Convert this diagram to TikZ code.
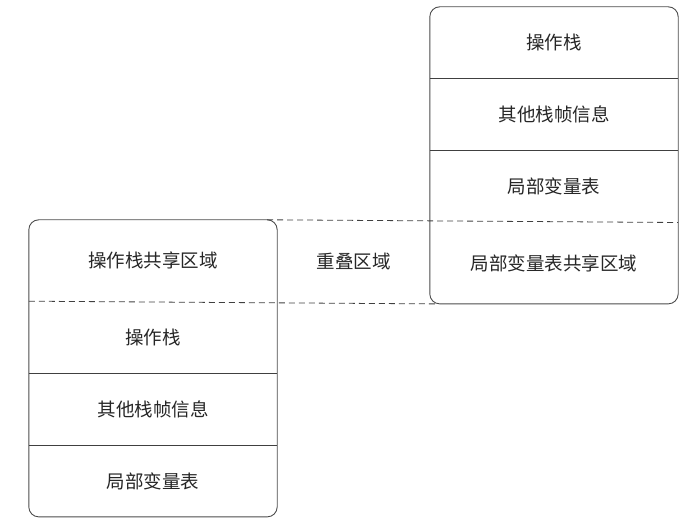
\documentclass[tikz,border=0pt]{standalone}
\usepackage{fontspec}
\newfontfamily\cjk{Noto Sans CJK SC}
\usetikzlibrary{positioning}
\usetikzlibrary{fit}
\usetikzlibrary{calc}
\tikzset {
  % one row of a stack frame
  cell/.style = {
    minimum width = 248pt,
    minimum height = 71.5pt,
    inner sep = 0,
    text = black!85,
    font = \cjk\fontsize{18.5}{22}\selectfont
  },
  % row that is shared with the other frame
  shared/.style = {
    cell,
    minimum height = 81pt
  },
  frame/.style = {
    draw = black!70,
    line width = 0.9pt,
    rounded corners = 10pt,
    inner sep = 0
  },
  sep/.style = {
    draw = black!75,
    line width = 0.8pt
  },
  overlap/.style = {
    sep,
    dash pattern = on 6pt off 4pt
  },
  node distance = 0pt
}

\begin{document}
\begin{tikzpicture}[x=1pt, y=1pt]
    \useasboundingbox (0,0) rectangle (700,518);

    % upper frame
    \node[cell] (upper-op) at (554,475.25) {操作栈};
    \node[cell] (upper-info) [below=of upper-op] {其他栈帧信息};
    \node[cell] (upper-local) [below=of upper-info] {局部变量表};
    \node[shared] (upper-share) [below=of upper-local] {局部变量表共享区域};

    % lower frame
    \node[shared] (lower-share) at (153,257.5) {操作栈共享区域};
    \node[cell] (lower-op) [below=of lower-share] {操作栈};
    \node[cell] (lower-info) [below=of lower-op] {其他栈帧信息};
    \node[cell] (lower-local) [below=of lower-info] {局部变量表};

    \node[cell, minimum width = 0pt] (overlap)
      at ($(lower-share.east)!0.5!(upper-share.west)$) {重叠区域};

    \node[frame, fit=(upper-op)(upper-share)] (upper-frame) {};
    \node[frame, fit=(lower-share)(lower-local)] (lower-frame) {};

    \draw[sep] (upper-op.south west) -- (upper-op.south east);
    \draw[sep] (upper-info.south west) -- (upper-info.south east);
    \draw[sep] (lower-op.south west) -- (lower-op.south east);
    \draw[sep] (lower-info.south west) -- (lower-info.south east);

    \draw[overlap] ([xshift=-10pt]lower-share.north east)
    -- (upper-share.north east);

    \draw[overlap] (lower-share.south west)
    -- ([xshift=5pt]upper-share.south west);
  \end{tikzpicture}
\end{document}
